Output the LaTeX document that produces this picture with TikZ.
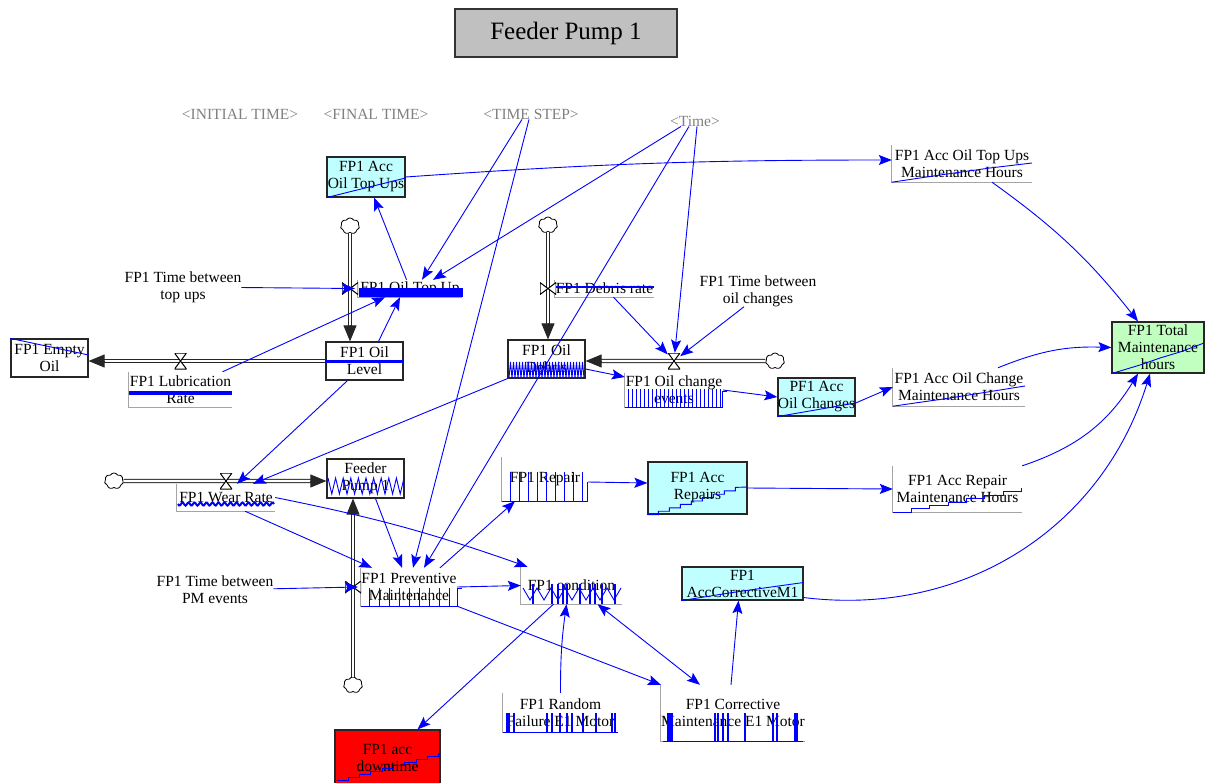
\documentclass[tikz,border=0pt]{standalone}
\usepackage{fontspec}
\setmainfont{Liberation Serif}
\usetikzlibrary{arrows.meta, shapes.symbols, calc, positioning}

\definecolor{stockcyan}{RGB}{192,255,255}
\definecolor{stockgreen}{RGB}{192,255,192}
\definecolor{titlegrey}{RGB}{192,192,192}
\definecolor{shadowgrey}{RGB}{128,128,128}
\definecolor{axisgrey}{RGB}{165,165,165}
\definecolor{vblue}{RGB}{0,0,255}

\tikzset{
	every node/.style={font=\rmfamily\fontsize{15.5}{17}\selectfont, inner sep=0pt, align=center},
	stock/.style={draw=black!85, line width=1.2pt},
	gaux/.style={},
	shadowvar/.style={text=shadowgrey},
	pipe/.style={draw=black!85, double=white, double distance=2.4pt, line width=0.9pt, shorten >=8pt},
	pipetip/.style={-{Triangle[length=16pt,width=13pt]}, black!85, line width=0.9pt},
	tip/.tip={Stealth[length=13pt,width=10pt,inset=2.5pt]},
	link/.style={vblue, line width=0.9pt, -tip},
	axis/.style={axisgrey, line width=0.9pt},
	spark/.style={vblue, line width=0.9pt},
	cloudy/.style={cloud, cloud puffs=7, cloud puff arc=120, aspect=1.2, draw=black, fill=white, line width=0.8pt, minimum width=19pt, minimum height=16pt},
	valveh/.style={minimum width=12pt, minimum height=16pt, path picture={
		\draw[black, fill=white, line width=1pt] (path picture bounding box.north west) -- (path picture bounding box.north east)
		-- (path picture bounding box.south west) -- (path picture bounding box.south east) -- cycle;}},
	valvev/.style={minimum width=16pt, minimum height=12pt, path picture={
		\draw[black, fill=white, line width=1pt] (path picture bounding box.north west) -- (path picture bounding box.south west)
		-- (path picture bounding box.north east) -- (path picture bounding box.south east) -- cycle;}}
}

\begin{document}
\begin{tikzpicture}[x=1pt, y=-1pt]
	\useasboundingbox (0,0) rectangle (1210,782);
	
	\node[draw=black!80, fill=titlegrey, line width=1.2pt, minimum width=222pt, minimum height=48pt,
		font=\rmfamily\fontsize{25}{30}\selectfont] (TITLE) at (566,33) {Feeder Pump 1};
	
	\node[shadowvar] (INIT) at (240,114) {<INITIAL TIME>};
	\node[shadowvar] (FINAL) at (376,114) {<FINAL TIME>};
	\node[shadowvar] (TSTEP) at (531,114) {<TIME STEP>};
	\node[shadowvar] (TIME) at (695,121) {<Time>};
	
	% stocks
	\node[stock, fill=stockcyan, minimum width=78pt, minimum height=40pt] (ACCTOPUP) at (366,177) {FP1 Acc\\Oil Top Ups};
	\node[stock, minimum width=77pt, minimum height=38pt] (EMPTY) at (49.5,358) {FP1 Empty\\Oil};
	\node[stock, minimum width=77pt, minimum height=38pt] (OIL) at (364.5,361) {FP1 Oil\\Level};
	\node[stock, minimum width=77pt, minimum height=38pt] (DEBRIS) at (546.5,359) {FP1 Oil\\Debris};
	\node[stock, fill=stockcyan, minimum width=77pt, minimum height=38pt] (ACCOIL) at (816.5,397) {PF1 Acc\\Oil Changes};
	\node[stock, minimum width=77pt, minimum height=39pt] (PUMP) at (365.5,478.5) {Feeder\\Pump 1};
	\node[stock, fill=stockcyan, minimum width=99pt, minimum height=52pt] (ACCREP) at (697.5,488) {FP1 Acc\\Repairs};
	\node[stock, fill=stockcyan, minimum width=121pt, minimum height=33pt] (ACCCM) at (742.5,583.5) {FP1\\AccCorrectiveM1};
	\node[stock, fill=stockgreen, minimum width=92pt, minimum height=51pt] (TOTAL) at (1158,347.5) {FP1 Total\\Maintenance\\hours};
	\node[stock, fill=red, minimum width=105pt, minimum height=56pt] (DOWN) at (387.5,758) {FP1 acc\\downtime};
	
	% variables with graphs
	\node[gaux, minimum width=104pt, minimum height=17pt] (TOPUP) at (410,288.5) {FP1 Oil Top Up};
	\node[gaux, minimum width=103pt, minimum height=35pt] (LUB) at (180.5,389.5) {FP1 Lubrication\\Rate};
	\node[gaux, minimum width=99pt, minimum height=17pt] (DEB) at (604.5,288.5) {FP1 Debris rate};
	\node[gaux, minimum width=98pt, minimum height=34pt] (OILCHG) at (674,390) {FP1 Oil change\\events};
	\node[gaux, minimum width=140pt, minimum height=37pt] (TOPUPMH) at (962,163.5) {FP1 Acc Oil Top Ups\\Maintenance Hours};
	\node[gaux, minimum width=132pt, minimum height=38pt] (OILMH) at (959,387) {FP1 Acc Oil Change\\Maintenance Hours};
	\node[gaux, minimum width=129pt, minimum height=46pt] (REPMH) at (957.5,489) {FP1 Acc Repair\\Maintenance Hours};
	\node[gaux, minimum width=98pt, minimum height=27pt] (WEAR) at (226,497.5) {FP1 Wear Rate};
	\node[gaux, minimum width=96pt, minimum height=38pt] (PM) at (409,587) {FP1 Preventive\\Maintenance};
	\node[gaux, minimum width=86pt, minimum height=44pt] (REP) at (545,479) {FP1 Repair};
	\node[gaux, minimum width=101pt, minimum height=37pt] (COND) at (571.5,585.5) {FP1 condition};
	\node[gaux, minimum width=115pt, minimum height=39pt] (RAND) at (560.5,712.5) {FP1 Random\\Failure E1 Motor};
	\node[gaux, minimum width=140pt, minimum height=56pt] (CM) at (733,713) {FP1 Corrective\\Maintenance E1 Motor};
	
	\node (TBTU) at (183,287) {FP1 Time between\\top ups};
	\node (TBOC) at (758,291) {FP1 Time between\\oil changes};
	\node (TBPM) at (215,590) {FP1 Time between\\PM events};
	
	\foreach \n in {TOPUP,LUB,DEB,OILCHG,TOPUPMH,OILMH,REPMH,WEAR,PM,REP,COND,RAND,CM}
		\draw[axis] (\n.north west) -- (\n.south west) -- (\n.south east);
	
	% clouds and pipes
	\node[cloudy] (CLOUD1) at (350,226) {};
	\node[cloudy] (CLOUD2) at (548,225) {};
	\node[cloudy] (CLOUD3) at (775,361) {};
	\node[cloudy] (CLOUD4) at (114,481) {};
	\node[cloudy] (CLOUD5) at (353,685) {};
	
	\draw[pipe] (CLOUD1) -- (OIL.north -| CLOUD1);
	\draw[pipe] (OIL.west) -- (OIL.west -| EMPTY.east);
	\draw[pipe] (CLOUD2) -- (DEBRIS.north -| CLOUD2);
	\draw[pipe] (CLOUD3) -- (CLOUD3 -| DEBRIS.east);
	\draw[pipe] (CLOUD4) -- (CLOUD4 -| PUMP.west);
	\draw[pipe] (CLOUD5) -- (PUMP.south -| CLOUD5);
	
	\node[valvev] (VALVE1) at (CLOUD1 |- TOPUP) {};
	\node[valveh] (VALVE2) at (LUB.north |- OIL.west) {};
	\node[valvev] (VALVE3) at (CLOUD2 |- DEB) {};
	\node[valveh] (VALVE4) at (OILCHG.north |- CLOUD3) {};
	\node[valveh] (VALVE5) at (WEAR.north |- CLOUD4) {};
	\node[valvev] (VALVE6) at (CLOUD5 |- PM) {};
	
	\draw[pipetip] ($(OIL.north -| CLOUD1)+(0,-16)$) -- (OIL.north -| CLOUD1);
	\draw[pipetip] ($(OIL.west -| EMPTY.east)+(16,0)$) -- (OIL.west -| EMPTY.east);
	\draw[pipetip] ($(DEBRIS.north -| CLOUD2)+(0,-16)$) -- (DEBRIS.north -| CLOUD2);
	\draw[pipetip] ($(CLOUD3 -| DEBRIS.east)+(16,0)$) -- (CLOUD3 -| DEBRIS.east);
	\draw[pipetip] ($(CLOUD4 -| PUMP.west)+(-16,0)$) -- (CLOUD4 -| PUMP.west);
	\draw[pipetip] ($(PUMP.south -| CLOUD5)+(0,16)$) -- (PUMP.south -| CLOUD5);
	
	% small graphs
	\draw[spark] (ACCTOPUP.south west) -- ($(ACCTOPUP.east)+(0,1)$);
	\draw[spark] (EMPTY.north west) -- ($(EMPTY.east)+(0,-3)$);
	\draw[spark, line width=3pt] (OIL.west) -- (OIL.east);
	\draw[spark] (509,378) \foreach \i in {1,...,25}{ --++ (1.5,-16) --++ (1.5,16)};
	\draw[spark] (ACCOIL.south west) -- ($(ACCOIL.east)+(0,6)$);
	\draw[spark] (328,478) \foreach \i in {1,...,10}{ --++ (3.8,16) --++ (3.8,-16)};
	\draw[spark] (ACCREP.south west) \foreach \i in {1,...,8}{ --++ (11,0) --++ (0,-3.4)} -- (747,487);
	\draw[spark] (ACCCM.south west) .. controls (735,592) .. ($(ACCCM.east)+(0,-1)$);
	\draw[spark] (TOTAL.south west) -- (1140,365) -- (1160,358) -- (1180,352) -- (1204,343);
	\draw[spark] (337,780) \foreach \i in {1,...,9}{ --++ (11.3,0) --++ (0,-3)};
	
	\fill[vblue] (359,288) rectangle (463,297);
	\draw[spark, line width=4pt] (129,393) -- (232,393);
	\draw[spark, line width=2.5pt] (556,287) -- (654,287);
	\draw[spark] (625,407) -- (722,407) -- (722,391) -- (727,391);
	\foreach \x in {628,632,...,720}
		\draw[spark] (\x,407) -- (\x,389);
	\draw[spark] (TOPUPMH.south west) -- (940,175) -- (990,168) -- (1032,163);
	\draw[spark] (OILMH.south west) -- (950,398) -- (1025,386);
	\draw[spark] (REPMH.south west) \foreach \i in {1,...,7}{ --++ (18.4,0) --++ (0,-3.4)};
	\draw[spark, line width=2pt] plot[domain=0:96, samples=90] ({178+\x},{504+1.6*sin(60*\x)});
	\draw[spark] (361,606) -- (457,606) -- (457,588) -- (462,588);
	\foreach \x in {369,379,...,449}
		\draw[spark] (\x,606) -- (\x,588);
	\draw[spark] (502,501) -- (587,501) -- (587,482);
	\foreach \x in {510,519,...,582}
		\draw[spark] (\x,501) -- (\x,472);
	\draw[spark] (523,588) \foreach \i in {1,...,7}{ --++ (7,12) --++ (7,-12)};
	\foreach \x in {533,552,558,563,567,580,590,595,602,615}
		\draw[spark, line width=1.3pt] (\x,604) -- (\x,584);
	\draw[spark] (503,732) -- (618,732);
	\foreach \x in {507,509,514,547,552,560,567,572,583,596,612,615}
		\draw[spark, line width=1.3pt] (\x,732) -- (\x,713);
	\draw[spark] (663,741) -- (803,741);
	\foreach \x in {668,670,672,715,718,723,728,745,773,777,795,797}
		\draw[spark, line width=1.3pt] (\x,741) -- (\x,713);
	
	% connectors
	\draw[link] (TOPUP) -- (ACCTOPUP);
	\draw[link] (ACCTOPUP.east) to[bend left=2] ([yshift=3.5pt]TOPUPMH.west);
	\draw[link] ([xshift=-9pt]TSTEP.south) -- ([xshift=12pt]TOPUP.north);
	\draw[link] ([xshift=-2pt]TSTEP.south) -- ([xshift=4pt]PM.north);
	\draw[link] ([xshift=-14pt]TIME.south) -- ([xshift=23pt]TOPUP.north);
	\draw[link] ([xshift=-6pt]TIME.south) -- ([xshift=15pt]PM.north);
	\draw[link] ([xshift=2pt]TIME.south) -- (VALVE4);
	\draw[link] ([xshift=9pt]DEB.south) -- (VALVE4);
	\draw[link] ([xshift=-14pt]TBOC.south) -- (VALVE4);
	\draw[link] (TBTU) -- ([xshift=5pt]VALVE1.center);
	\draw[link] ([xshift=42pt]LUB.north) -- ([xshift=-25pt]TOPUP.south);
	\draw[link] ([xshift=14pt]OIL.north) -- ([xshift=-10pt]TOPUP.south);
	\draw[link] ([xshift=-17pt]OIL.south) -- ([xshift=11pt]WEAR.north);
	\draw[link] (DEBRIS.south west) -- ([xshift=27pt]WEAR.north);
	\draw[link] ([yshift=-10pt]DEBRIS.east) -- ([yshift=13pt]OILCHG.west);
	\draw[link] (OILCHG.east) -- (ACCOIL.west);
	\draw[link] ([yshift=-6pt]ACCOIL.east) -- (OILMH.west);
	\draw[link] ([xshift=39pt]OILMH.north) to[bend left=12] (TOTAL.west);
	\draw[link] ([xshift=30pt]TOPUPMH.south) to[bend left=8] ([xshift=-20pt]TOTAL.north);
	\draw[link] (REPMH.north east) to[bend right=20] ([xshift=-20pt]TOTAL.south);
	\draw[link] ([yshift=-14pt]ACCCM.east) to[bend right=40] ([xshift=-8pt]TOTAL.south);
	\draw[link] (ACCREP.east) -- (REPMH.west);
	\draw[link] ([yshift=-3pt]REP.east) -- ([yshift=5pt]ACCREP.west);
	\draw[link] ([xshift=31pt]PM.north) -- ([xshift=-30pt]REP.south);
	\draw[link] ([xshift=10pt]PUMP.south) -- ([xshift=-7pt]PM.north);
	\draw[link] ([xshift=19pt]WEAR.south) -- ([xshift=-37pt]PM.north);
	\draw[link] (WEAR.east) to[bend left=4] ([xshift=-44pt]COND.north);
	\draw[link] (TBPM) -- ([xshift=5pt]VALVE6.center);
	\draw[link] (PM.east) -- (COND.west);
	\draw[link] (PM.south east) -- (CM.north west);
	\draw[link] ([xshift=-18pt]COND.south) -- ([xshift=30pt]DOWN.north);
	\draw[link] (RAND.north) to[bend left=4] ([xshift=-5pt]COND.south);
	\draw[link, tip-tip] ([xshift=26pt]COND.south) -- ([xshift=-33pt]CM.north);
	\draw[link] ([xshift=-2pt]CM.north) -- ([xshift=-4pt]ACCCM.south);
\end{tikzpicture}
\end{document}
